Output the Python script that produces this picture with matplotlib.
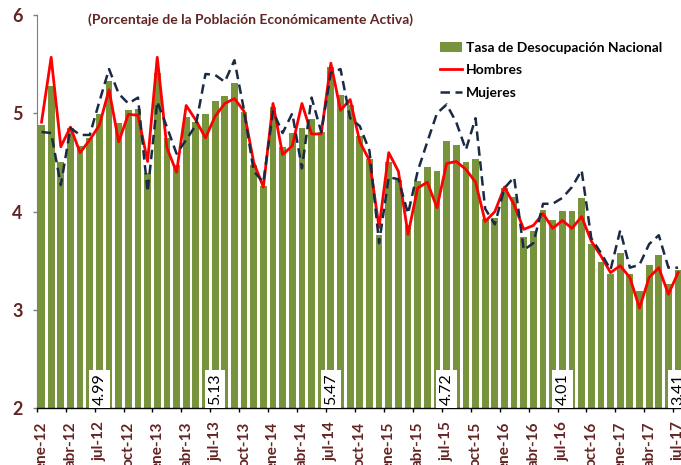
import matplotlib
matplotlib.use("Agg")
import matplotlib.pyplot as plt
from matplotlib.patches import Patch
from matplotlib.lines import Line2D

months = ["ene", "feb", "mar", "abr", "may", "jun", "jul", "ago", "sep", "oct", "nov", "dic"]
periods = [f"{m}-{y}" for y in range(12, 18) for m in months][:67]

nacional = [4.88, 5.28, 4.51, 4.85, 4.67, 4.75, 4.99, 5.33, 4.90, 5.03, 5.04, 4.39,
            5.41, 4.75, 4.47, 4.96, 4.91, 4.99, 5.13, 5.18, 5.31, 5.01, 4.47, 4.26,
            5.06, 4.66, 4.80, 4.85, 4.94, 4.81, 5.47, 5.19, 5.08, 4.77, 4.54, 3.76,
            4.51, 4.32, 3.86, 4.31, 4.45, 4.41, 4.72, 4.68, 4.50, 4.54, 3.93, 3.94,
            4.24, 4.15, 3.74, 3.80, 4.02, 3.92, 4.01, 4.01, 4.14, 3.67, 3.49, 3.37,
            3.58, 3.37, 3.19, 3.46, 3.56, 3.26, 3.41]

hombres = [4.91, 5.57, 4.66, 4.86, 4.60, 4.73, 4.88, 5.24, 4.71, 4.99, 4.98, 4.51,
           5.57, 4.65, 4.40, 5.08, 4.93, 4.75, 4.97, 5.10, 5.15, 5.02, 4.50, 4.25,
           5.10, 4.58, 4.67, 5.10, 4.79, 4.79, 5.51, 5.03, 5.14, 4.71, 4.52, 3.84,
           4.60, 4.41, 3.77, 4.24, 4.30, 4.04, 4.49, 4.51, 4.43, 4.30, 3.90, 4.00,
           4.25, 4.07, 3.82, 3.86, 3.98, 3.83, 3.91, 3.83, 3.95, 3.70, 3.55, 3.38,
           3.45, 3.33, 3.02, 3.33, 3.43, 3.16, 3.38]

mujeres = [4.81, 4.80, 4.27, 4.85, 4.78, 4.78, 5.12, 5.45, 5.20, 5.10, 5.16, 4.20,
           5.12, 4.86, 4.59, 4.73, 4.88, 5.40, 5.39, 5.32, 5.54, 5.03, 4.41, 4.30,
           5.02, 4.80, 5.00, 4.44, 5.16, 4.81, 5.41, 5.45, 4.95, 4.87, 4.62, 3.68,
           4.35, 4.33, 3.98, 4.41, 4.71, 5.00, 5.09, 4.91, 4.63, 4.95, 4.03, 3.87,
           4.24, 4.35, 3.61, 3.68, 4.08, 4.08, 4.14, 4.25, 4.42, 3.73, 3.58, 3.41,
           3.81, 3.43, 3.46, 3.67, 3.76, 3.43, 3.43]

labeled = ["jul-12", "jul-13", "jul-14", "jul-15", "jul-16", "jul-17"]
yticks = [2, 3, 4, 5, 6]

GREEN = "#77933C"
BROWN = "#632523"
NAVY = "#1B2A44"

plt.rcParams["font.family"] = ["Lato", "DejaVu Sans"]

fig = plt.figure(figsize=(6.81, 4.65), dpi=100)
ax = fig.add_axes([36.7 / 681, 1 - 408.3 / 465, (682.9 - 36.7) / 681, (408.3 - 15) / 465])

x = list(range(len(periods)))
ax.bar(x, nacional, width=0.7, color=GREEN, bottom=0, zorder=2)
ax.plot(x, hombres, color="#FF0000", lw=2.0, zorder=3)
ax.plot(x, mujeres, color=NAVY, lw=1.8, ls=(0, (3.8, 2.2)), zorder=3)

ax.set_ylim(2, 6)
ax.set_xlim(-0.5, len(periods) - 0.5)
ax.set_yticks(yticks)
ax.set_yticklabels([str(t) for t in yticks])

major = [i - 0.5 for i in range(0, len(periods), 3)]
ax.set_xticks(major)
ax.set_xticklabels([])
ax.set_xticks(list(range(0, len(periods), 3)), minor=True)
ax.set_xticklabels([periods[i] for i in range(0, len(periods), 3)], minor=True,
                   rotation=90, fontsize=11, fontweight="bold", color=BROWN, va="top")
ax.tick_params(axis="x", which="minor", length=0, pad=9.5)
ax.tick_params(axis="x", which="major", length=3.2, width=1.0, color="black", direction="out")
ax.tick_params(axis="y", length=3.2, width=1.0, color="#7F7F7F", pad=7, labelsize=13,
               labelcolor=BROWN)
for lbl in ax.get_yticklabels():
    lbl.set_fontweight("bold")

for s in ["top", "right"]:
    ax.spines[s].set_visible(False)
ax.spines["left"].set_color("#7F7F7F")
ax.spines["bottom"].set_color("black")
ax.spines["bottom"].set_linewidth(1.0)

for p in labeled:
    i = periods.index(p)
    ax.text(i, 2.035, f"{nacional[i]:.2f}", rotation=90, ha="center", va="bottom",
            fontsize=11.5, color="black", zorder=5,
            bbox=dict(facecolor="white", edgecolor="none", pad=2.3))

fig.text(251 / 681, 1 - 20 / 465, "(Porcentaje de la Población Económicamente Activa)",
         ha="center", va="center", fontsize=10, fontweight="bold", color=BROWN)

handles = [Patch(facecolor=GREEN, edgecolor="none"),
           Line2D([], [], color="#FF0000", lw=2.0),
           Line2D([], [], color=NAVY, lw=1.8, ls=(0, (3.8, 2.2)))]
fig.legend(handles, ["Tasa de Desocupación Nacional", "Hombres", "Mujeres"],
           loc="upper left", bbox_to_anchor=(437 / 681, 1 - 39 / 465), frameon=False,
           prop={"weight": "bold", "size": 10}, handlelength=1.6, handleheight=0.75,
           handletextpad=0.3, labelspacing=0.76, borderaxespad=0, borderpad=0.2)

fig.savefig("out.png", dpi=100)
